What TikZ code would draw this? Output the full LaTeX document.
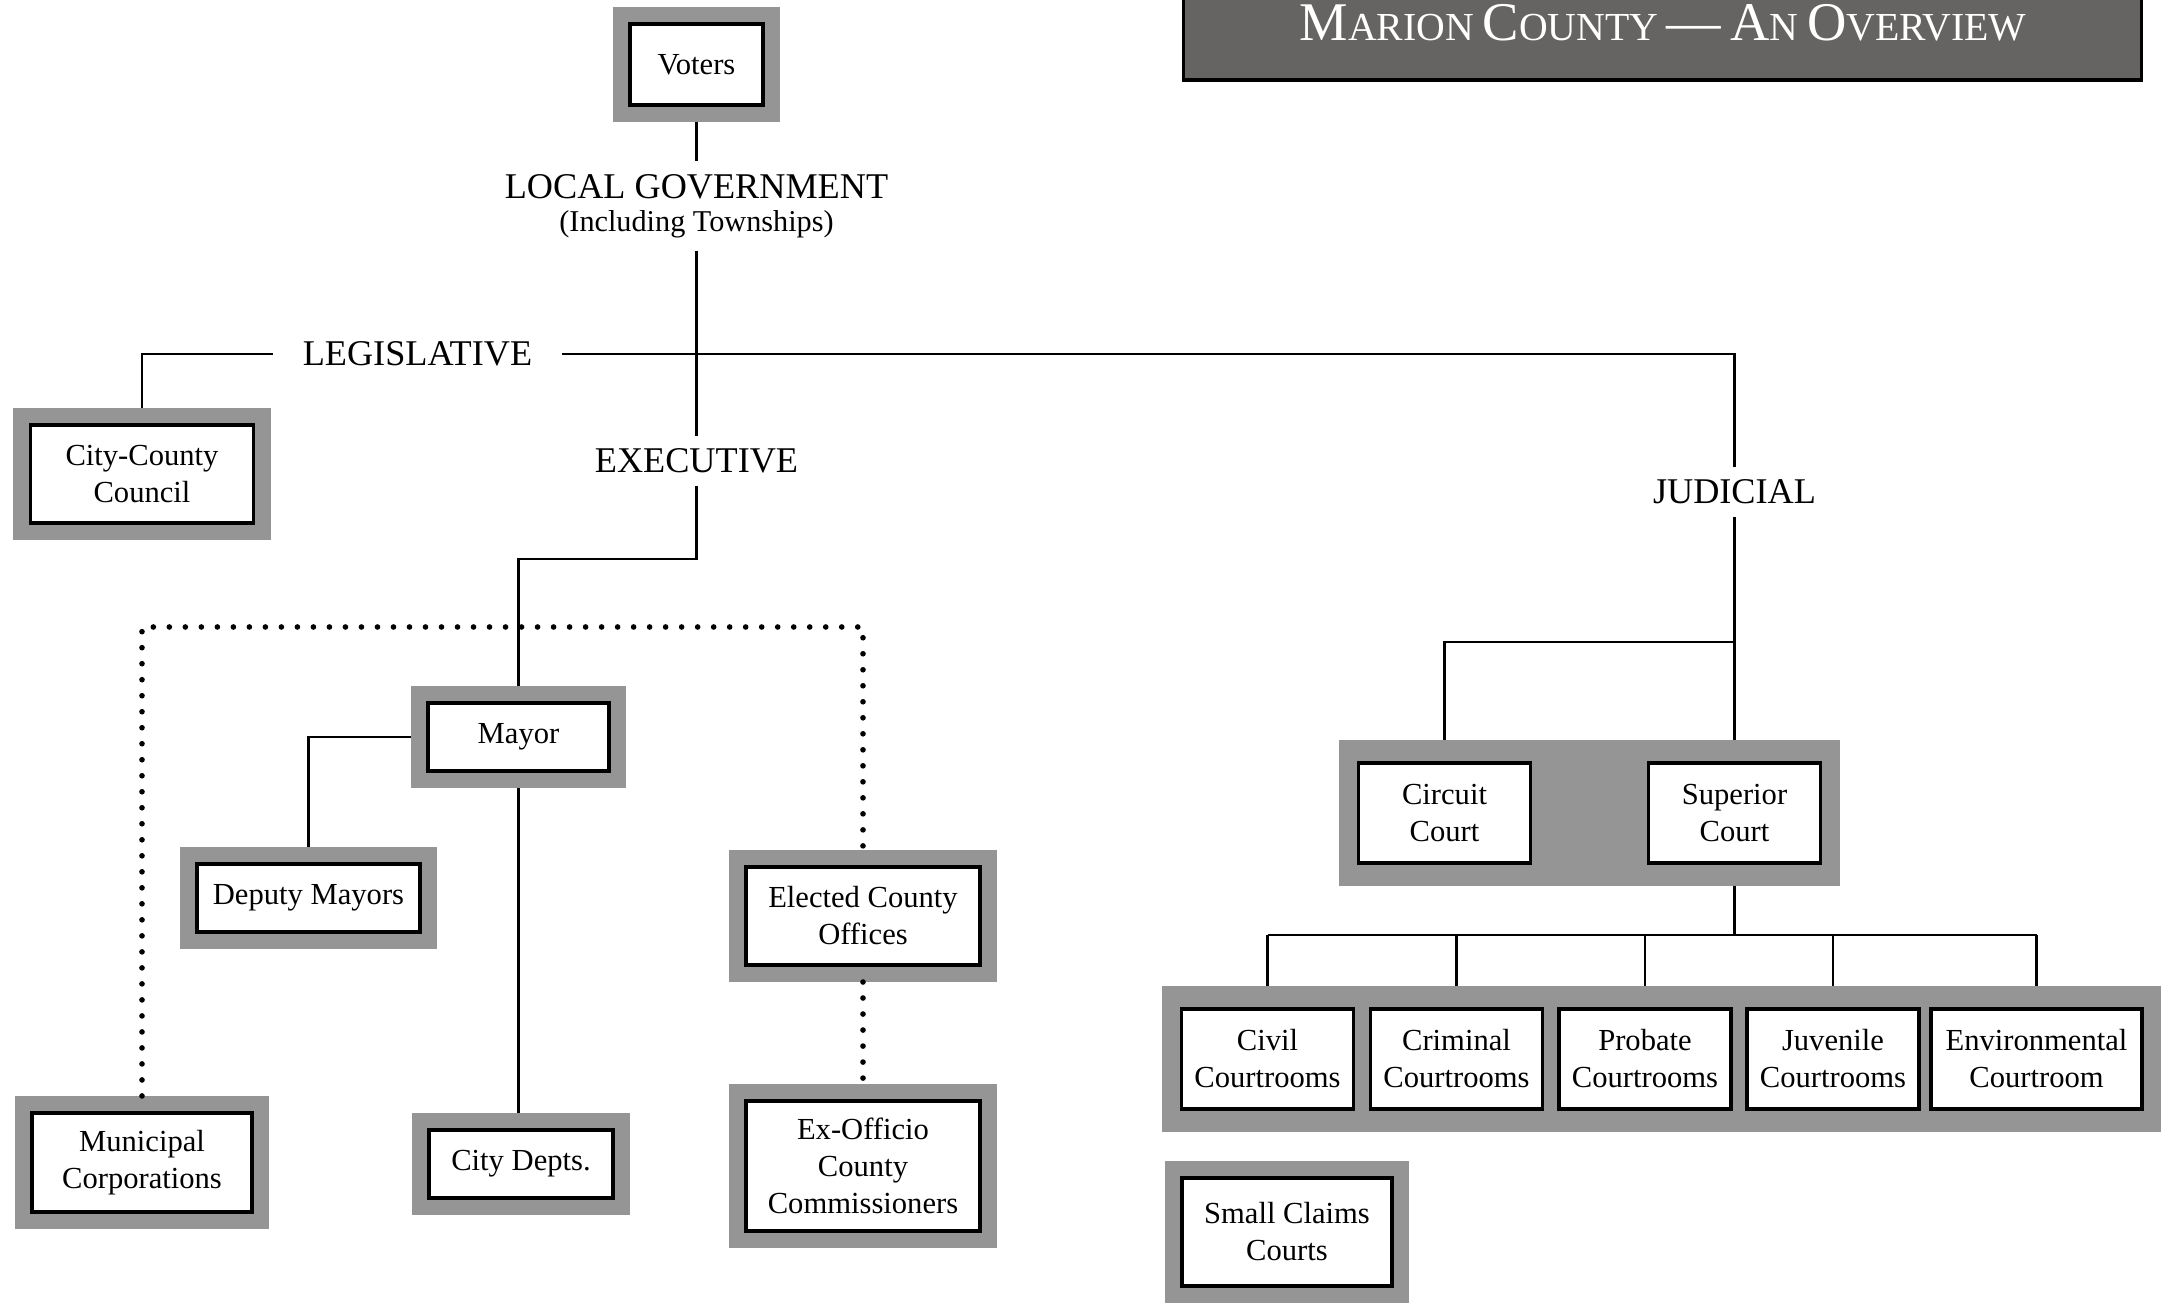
\documentclass[tikz,border=0pt]{standalone}
\usepackage{xcolor}
\usepackage{fontspec}
\setmainfont{Liberation Serif}
\usepackage{tikz}
\usetikzlibrary{calc,fit,backgrounds}
\definecolor{framegray}{RGB}{149,149,149}
\definecolor{titlegray}{RGB}{102,100,98}
\newcommand{\capword}[2]{{\fontsize{15.5}{15.5}\selectfont #1}{\fontsize{11.3}{11.3}\selectfont #2}}

\begin{document}
\begin{tikzpicture}[x=0.01cm,y=-0.01cm,
    cell/.style={draw,line width=1pt,fill=white,align=center,inner sep=0pt,
      font=\fontsize{8.7}{10.5}\selectfont,
      preaction={draw=framegray,line width=0.34cm},outer sep=0.17cm},
    plaincell/.style={draw,line width=1pt,fill=white,align=center,inner sep=0pt,
      font=\fontsize{8.7}{10.5}\selectfont,outer sep=0pt,
      minimum width=1.72cm,minimum height=1cm},
    band/.style={fill=framegray,inner xsep=0.19cm,inner ysep=0.225cm,outer sep=0pt},
    branch/.style={font=\fontsize{10.3}{9.5}\selectfont,align=center,inner sep=0.12cm},
    link/.style={line width=0.6pt},
    dotline/.style={line width=1.6pt,line cap=round,dash pattern=on 0pt off 0.16cm}]
  \useasboundingbox (0,0) rectangle (2171,1304);

  \node[draw,line width=1pt,fill=titlegray,minimum width=9.57cm,minimum height=1cm] (titlebar) at (1662.5,30) {};
  \node[anchor=base,text=white,inner sep=0pt] (title) at (1663,41)
    {\capword{M}{ARION} \capword{C}{OUNTY} {\fontsize{15.5}{15.5}\selectfont —} \capword{A}{N} \capword{O}{VERVIEW}};

  \node[cell,minimum width=1.33cm,minimum height=0.81cm] (voters) at (696.5,64.5) {Voters};
  \node[branch] (localgov) at (696.5,206) {LOCAL GOVERNMENT\\{\fontsize{8.6}{9.5}\selectfont (Including Townships)}};
  \node[branch,inner xsep=0.29cm] (legis) at (417.5,354) {LEGISLATIVE};
  \node[branch] (executive) at (696.5,461) {EXECUTIVE};
  \node[branch] (judicial) at (1734.5,492) {JUDICIAL};

  \node[cell,minimum width=2.23cm,minimum height=0.98cm] (council) at (142,474) {City-County\\Council};
  \node[cell,minimum width=1.81cm,minimum height=0.68cm] (mayor) at (518.5,737) {Mayor};
  \node[cell,minimum width=2.23cm,minimum height=0.68cm] (deputy) at (308.5,898) {Deputy Mayors};
  \node[cell,minimum width=2.34cm,minimum height=0.98cm] (elected) at (863,916) {Elected County\\Offices};
  \node[cell,minimum width=2.34cm,minimum height=1.30cm] (exofficio) at (863,1166) {Ex-Officio\\County\\Commissioners};
  \node[cell,minimum width=2.20cm,minimum height=0.99cm] (municipal) at (142,1162.5) {Municipal\\Corporations};
  \node[cell,minimum width=1.84cm,minimum height=0.68cm] (citydepts) at (521,1164) {City Depts.};

  \node[plaincell] (circuit) at (1444.5,813) {Circuit\\Court};
  \node[plaincell] (superior) at (1734.5,813) {Superior\\Court};
  \node[plaincell] (civil) at (1267.5,1059) {Civil\\Courtrooms};
  \node[plaincell] (criminal) at (1456.5,1059) {Criminal\\Courtrooms};
  \node[plaincell] (probate) at (1645,1059) {Probate\\Courtrooms};
  \node[plaincell] (juvenile) at (1833,1059) {Juvenile\\Courtrooms};
  \node[plaincell,minimum width=2.11cm] (environ) at (2036.5,1059) {Environmental\\Courtroom};
  \node[cell,minimum width=2.10cm,minimum height=1.08cm] (smallclaims) at (1287,1232) {Small Claims\\Courts};

  \begin{pgfonlayer}{background}
    \node[band,fit=(circuit)(superior)] (courts) {};
    \node[band,fit=(civil)(environ)] (rooms) {};
  \end{pgfonlayer}

  \coordinate (mayorbend) at (696.5,559);
  \coordinate (dotrow) at (500,627);
  \coordinate (split) at (1734.5,642);
  \coordinate (rail) at (1734.5,935);

  \draw[link] (voters.south) -- (localgov.north);
  \draw[link] (localgov.south) -- (executive.north);
  \draw[link] (council.north) |- (legis.west);
  \draw[link] (legis.east) -| (judicial.north);
  \draw[link] (executive.south) -- (mayorbend) -| (mayor.north);
  \draw[link] (mayor.west) -| (deputy.north);
  \draw[link] (mayor.south) -- (mayor.south |- citydepts.north);
  \draw[dotline] (municipal.north) |- (elected.north |- dotrow) -- (elected.north);
  \draw[dotline] (elected.south) -- (exofficio.north);

  \draw[link] (judicial.south) -- (superior |- courts.north);
  \draw[link] (split) -| (circuit |- courts.north);
  \draw[link] (superior |- courts.south) -- (rail);
  \draw[link] (civil |- rail) -- (environ |- rail);
  \foreach \r in {civil,criminal,probate,juvenile,environ}
    \draw[link] (\r |- rail) -- (\r |- rooms.north);
\end{tikzpicture}
\end{document}
